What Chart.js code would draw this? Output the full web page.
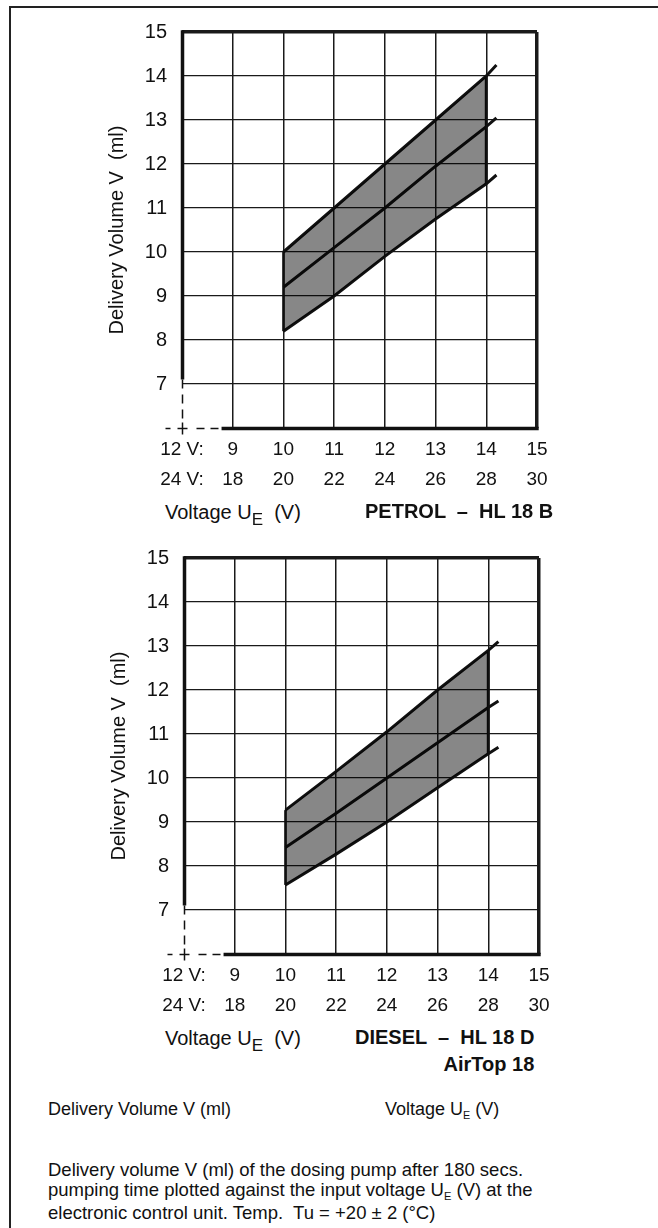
<!DOCTYPE html>
<html><head><meta charset="utf-8">
<script src="https://cdn.jsdelivr.net/npm/chart.js@4.4.1/dist/chart.umd.min.js"></script>
<style>
html,body{margin:0;padding:0;background:#fff;}
body{width:658px;height:1228px;position:relative;overflow:hidden;font-family:"Liberation Sans",Arial,Helvetica,sans-serif;color:#111;}
.frame-l{position:absolute;left:9px;top:6px;width:2px;height:1222px;background:#222;}
.frame-t{position:absolute;left:9px;top:6px;width:649px;height:2px;background:#222;}
canvas{position:absolute;}
.t{position:absolute;white-space:pre;font-size:20px;line-height:20px;}
.b{font-weight:bold;}
.sub{font-size:0.85em;position:relative;top:0.35em;}
.sub2{font-size:0.6em;position:relative;top:0.35em;}
.foot{position:absolute;left:48px;white-space:pre;font-size:18px;line-height:20.3px;}
.para{font-size:18.5px;}
</style>
</head><body>
<div class="frame-t"></div><div class="frame-l"></div>
<canvas id="c1" width="658" height="498" style="left:0;top:0"></canvas>
<canvas id="c2" width="658" height="498" style="left:2px;top:526px"></canvas>

<div class="t" style="left:165px;top:502px">Voltage U<span class="sub">E</span>  (V)</div>
<div class="t b" style="left:365px;top:501px">PETROL  –  HL 18 B</div>

<div class="t" style="left:165px;top:1028px">Voltage U<span class="sub">E</span>  (V)</div>
<div class="t b" style="left:355px;top:1024px;line-height:27px;text-align:right">DIESEL  –  HL 18 D<br>AirTop 18</div>

<div class="foot" style="top:1099px">Delivery Volume V (ml)</div>
<div class="foot" style="left:385px;top:1099px">Voltage U<span class="sub2">E</span> (V)</div>
<div class="foot para" style="top:1160px">Delivery volume V (ml) of the dosing pump after 180 secs.
pumping time plotted against the input voltage U<span class="sub2">E</span> (V) at the
electronic control unit. Temp.  Tu = +20 ± 2 (°C)</div>

<script>
// ---- data ----
const voltage12 = [10, 11, 12, 13, 14, 14.2];     // 12 V scale positions of line points
const bandPoints = 5;                              // band spans 10..14
const xTicks12 = ['12 V:', '9', '10', '11', '12', '13', '14', '15'];
const xTicks24 = ['24 V:', '18', '20', '22', '24', '26', '28', '30'];
const yTickLabels = ['7', '8', '9', '10', '11', '12', '13', '14', '15'];

const petrolUpper = [10.0, 11.0, 12.0, 13.0, 14.0, 14.25];
const petrolMid   = [9.2, 10.1, 11.0, 11.95, 12.85, 13.05];
const petrolLower = [8.2, 9.0, 9.9, 10.75, 11.55, 11.75];

const dieselUpper = [9.27, 10.15, 11.05, 12.0, 12.9, 13.1];
const dieselMid   = [8.42, 9.2, 10.0, 10.8, 11.6, 11.75];
const dieselLower = [7.57, 8.27, 9.0, 9.78, 10.55, 10.7];

Chart.defaults.font.family = '"Liberation Sans", Arial, Helvetica, sans-serif';
Chart.defaults.color = '#111';

function pts(xs, ys, n) {
  return xs.slice(0, n).map((x, i) => ({x: x, y: ys[i]}));
}

const axisPlugin = {
  id: 'axisFrame',
  afterDatasetsDraw(chart) {
    const ctx = chart.ctx, x = chart.scales.x, y = chart.scales.y;
    const x8 = Math.round(x.getPixelForValue(8)) + 0.5;
    const y6 = Math.round(y.getPixelForValue(6)) + 0.5;
    const seg = (a, b, c, d) => { ctx.beginPath(); ctx.moveTo(a, b); ctx.lineTo(c, d); ctx.stroke(); };
    ctx.save();
    ctx.strokeStyle = '#111';
    ctx.lineWidth = 3.5;
    seg(x8, y.getPixelForValue(15) - 1.7, x8, y.getPixelForValue(7.1));
    ctx.lineWidth = 1.5;
    ctx.setLineDash([9, 6]);
    seg(x8, y.getPixelForValue(7.1), x8, y6 - 6);
    ctx.setLineDash([8, 6]);
    seg(x8 + 14, y6, x.getPixelForValue(8.78), y6);
    ctx.setLineDash([]);
    seg(x8 - 17, y6, x8 - 12, y6);
    seg(x8 - 5, y6, x8 + 5, y6);
    seg(x8, y6 - 6, x8, y6 + 6);
    ctx.lineWidth = 3.5;
    seg(x.getPixelForValue(8.78), y6, x.getPixelForValue(15) + 1.7, y6);
    ctx.restore();
  }
};

function makeChart(id, upper, mid, lower) {
  const band = 'rgba(0,0,0,0.47)';
  return new Chart(document.getElementById(id), {
    type: 'line',
    data: {
      datasets: [
        {data: pts(voltage12, lower, bandPoints), borderWidth: 0, pointRadius: 0, fill: false},
        {data: pts(voltage12, upper, bandPoints), borderWidth: 0, pointRadius: 0, fill: '-1', backgroundColor: band},
        {data: [{x: voltage12[0], y: lower[0]}, {x: voltage12[0], y: upper[0]}], borderColor: '#111', borderWidth: 2.5, pointRadius: 0, fill: false},
        {data: [{x: voltage12[bandPoints - 1], y: lower[bandPoints - 1]}, {x: voltage12[bandPoints - 1], y: upper[bandPoints - 1]}], borderColor: '#111', borderWidth: 3, pointRadius: 0, fill: false},
        {data: pts(voltage12, upper, voltage12.length), borderColor: '#111', borderWidth: 3, pointRadius: 0, fill: false, tension: 0},
        {data: pts(voltage12, mid, voltage12.length), borderColor: '#111', borderWidth: 3, pointRadius: 0, fill: false, tension: 0},
        {data: pts(voltage12, lower, voltage12.length), borderColor: '#111', borderWidth: 3, pointRadius: 0, fill: false, tension: 0}
      ]
    },
    options: {
      responsive: false, animation: false, devicePixelRatio: 1,
      layout: {padding: {left: 92, right: 121, top: 32, bottom: 0}},
      plugins: {legend: {display: false}, tooltip: {enabled: false}},
      scales: {
        x: {
          type: 'linear', min: 8, max: 15,
          afterFit: s => { s.height = 70; },
          ticks: {
            stepSize: 1, autoSkip: false, maxRotation: 0, padding: 7, color: '#111',
            font: {size: 19, lineHeight: 1.58},
            callback: v => { const i = Math.round(v - 8); return [xTicks12[i], xTicks24[i]]; }
          },
          grid: {
            drawTicks: false,
            color: c => (c.tick && c.tick.value === 8) ? 'rgba(0,0,0,0)' : '#1a1a1a',
            lineWidth: c => (c.tick && c.tick.value === 15) ? 3.5 : 1.5
          },
          border: {display: false}
        },
        y: {
          type: 'linear', min: 6, max: 15,
          afterFit: s => { s.width = 90; },
          ticks: {
            stepSize: 1, padding: 15, color: '#111', font: {size: 20},
            callback: v => (v < 7 ? null : yTickLabels[Math.round(v - 7)])
          },
          grid: {
            drawTicks: false,
            color: '#1a1a1a',
            lineWidth: c => (c.tick && c.tick.value === 15) ? 3.5 : 1.3
          },
          border: {display: false},
          title: {display: true, text: 'Delivery Volume V  (ml)', color: '#111', font: {size: 20}, padding: {top: 13, bottom: 0}}
        }
      }
    },
    plugins: [axisPlugin]
  });
}

makeChart('c1', petrolUpper, petrolMid, petrolLower);
makeChart('c2', dieselUpper, dieselMid, dieselLower);
</script>
</body></html>
